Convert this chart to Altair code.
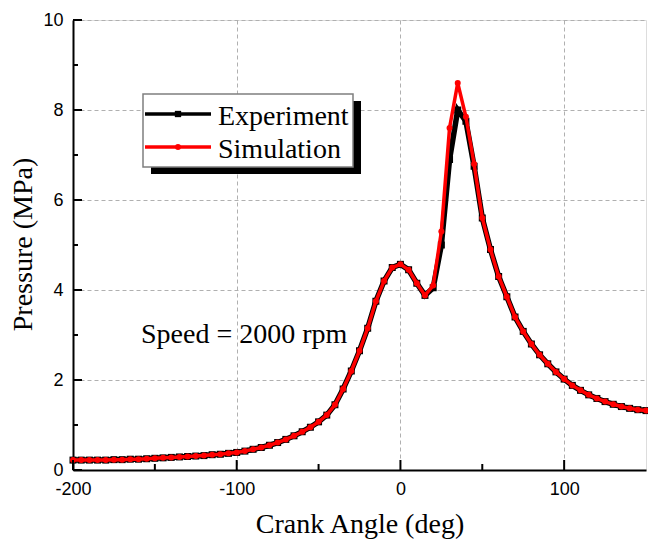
import altair as alt
import pandas as pd

# ---- data ----
angle = list(range(-200, 155, 5))  # crank angle sampling (deg)

simulation = [
    0.22, 0.22, 0.22, 0.22, 0.22, 0.23, 0.23, 0.24, 0.24, 0.25,   # -200..-155
    0.26, 0.27, 0.28, 0.29, 0.30, 0.31, 0.32, 0.34, 0.35, 0.37,   # -150..-105
    0.39, 0.42, 0.46, 0.50, 0.55, 0.61, 0.68, 0.76, 0.85, 0.95,   # -100..-55
    1.07, 1.22, 1.45, 1.80, 2.20, 2.65, 3.15, 3.75, 4.20, 4.50,   # -50..-5
    4.57, 4.45, 4.15, 3.88, 4.10, 5.30, 7.60, 8.60, 7.85, 6.80,   # 0..45
    5.60, 4.90, 4.30, 3.85, 3.40, 3.08, 2.80, 2.56, 2.36, 2.18,   # 50..95
    2.02, 1.88, 1.77, 1.67, 1.59, 1.52, 1.46, 1.41, 1.37, 1.34, 1.32,  # 100..150
]

experiment = [
    0.22, 0.22, 0.22, 0.22, 0.22, 0.23, 0.23, 0.24, 0.24, 0.25,
    0.26, 0.27, 0.28, 0.29, 0.30, 0.31, 0.32, 0.34, 0.35, 0.37,
    0.39, 0.42, 0.46, 0.50, 0.55, 0.61, 0.68, 0.76, 0.85, 0.95,
    1.07, 1.22, 1.45, 1.80, 2.20, 2.65, 3.15, 3.75, 4.20, 4.50,
    4.57, 4.45, 4.15, 3.88, 4.05, 5.00, 6.90, 8.00, 7.75, 6.75,
    5.60, 4.90, 4.30, 3.85, 3.40, 3.08, 2.80, 2.56, 2.36, 2.18,
    2.02, 1.88, 1.77, 1.67, 1.59, 1.52, 1.46, 1.41, 1.37, 1.34, 1.32,
]

series_names = ["Experiment", "Simulation"]
note = ["Speed = 2000 rpm"]

x_major = [-200, -100, 0, 100]
x_minor = [-150, -50, 50]
y_major = [0, 2, 4, 6, 8, 10]
y_minor = [1, 3, 5, 7, 9]

# ---- layout ----
W, H = 573, 450
SERIF = "Liberation Serif"
SANS = "Liberation Sans"
RED = "#ff0000"

df_exp = pd.DataFrame({"angle": angle, "pressure": experiment})
df_sim = pd.DataFrame({"angle": angle, "pressure": simulation})

xscale = alt.Scale(domain=[-200, 150], nice=False, zero=False)
yscale = alt.Scale(domain=[0, 10], nice=False, zero=False)

common = dict(
    ticks=False, labelFlush=False, labelExpr="'' + datum.value",
    labelFont=SANS, labelFontSize=18, labelColor="black",
    domainColor="black", domainWidth=2,
    grid=True, gridColor="#b0b0b0", gridDash=[4, 3], gridWidth=1,
    titleFont=SERIF, titleFontSize=28, titleFontWeight="normal",
    titleColor="black", titleBaseline="alphabetic",
)
x_axis = alt.Axis(values=x_major, title="Crank Angle (deg)", labelPadding=10,
                  titleX=W / 2, titleY=62, **common)
y_axis = alt.Axis(values=y_major, title="Pressure (MPa)", labelPadding=10,
                  titleAngle=270, titleX=-42, titleY=224, **common)

X = alt.X("angle:Q", scale=xscale, axis=x_axis)
Y = alt.Y("pressure:Q", scale=yscale, axis=y_axis)

exp_line = alt.Chart(df_exp).mark_line(color="black", strokeWidth=5.5).encode(x=X, y=Y)
exp_pts = alt.Chart(df_exp).mark_point(
    shape="square", filled=True, size=49, color="black", opacity=1
).encode(x=X, y=Y)
sim_line = alt.Chart(df_sim).mark_line(color=RED, strokeWidth=3.5).encode(x=X, y=Y)
sim_pts = alt.Chart(df_sim).mark_point(
    shape="circle", filled=True, size=36, color=RED, opacity=1
).encode(x=X, y=Y)

# inward ticks
def xticks(vals, length):
    return alt.Chart(pd.DataFrame({"angle": vals})).mark_rule(
        color="black", strokeWidth=2
    ).encode(x=X, y=alt.value(H), y2=alt.value(H - length))

def yticks(vals, length):
    return alt.Chart(pd.DataFrame({"pressure": vals})).mark_rule(
        color="black", strokeWidth=2
    ).encode(y=Y, x=alt.value(0), x2=alt.value(length))

ticks = xticks(x_major, 10) + xticks(x_minor, 6) + yticks(y_major, 9) + yticks(y_minor, 5)

# legend (decoration)
one = pd.DataFrame({"k": [0]})
shadow = alt.Chart(one).mark_rect(color="black").encode(
    x=alt.value(78), x2=alt.value(288), y=alt.value(81), y2=alt.value(154))
box = alt.Chart(one).mark_rect(fill="white", stroke="#7f7f7f", strokeWidth=1.5).encode(
    x=alt.value(70), x2=alt.value(280), y=alt.value(74), y2=alt.value(147))
leg_exp_line = alt.Chart(one).mark_rule(color="black", strokeWidth=3.5).encode(
    x=alt.value(72), x2=alt.value(138), y=alt.value(94))
leg_exp_pt = alt.Chart(one).mark_point(shape="square", filled=True, size=40, color="black", opacity=1).encode(
    x=alt.value(105), y=alt.value(94))
leg_sim_line = alt.Chart(one).mark_rule(color=RED, strokeWidth=3.5).encode(
    x=alt.value(72), x2=alt.value(138), y=alt.value(127))
leg_sim_pt = alt.Chart(one).mark_point(shape="circle", filled=True, size=36, color=RED, opacity=1).encode(
    x=alt.value(105), y=alt.value(127))

def label(txt, yy):
    return alt.Chart(pd.DataFrame({"t": [txt]})).mark_text(
        align="left", baseline="alphabetic", font=SERIF, fontSize=28, color="black"
    ).encode(x=alt.value(145), y=alt.value(yy), text="t:N")

leg_text = label(series_names[0], 104.5) + label(series_names[1], 137.5)

note_text = alt.Chart(pd.DataFrame({"t": note})).mark_text(
    align="left", baseline="alphabetic", font=SERIF, fontSize=28, color="black"
).encode(x=alt.value(68), y=alt.value(323), text="t:N")

chart = alt.layer(
    exp_line, exp_pts, sim_line, sim_pts, ticks,
    shadow, box, leg_exp_line, leg_exp_pt, leg_sim_line, leg_sim_pt, leg_text,
    note_text,
).properties(
    width=W, height=H,
    padding={"left": 73, "top": 20, "right": 2, "bottom": 71},
    autosize=alt.AutoSizeParams(type="none"),
).configure_view(stroke="black", strokeWidth=2).configure(background="white")

chart.save("out.html", embed_options={"renderer": "svg", "actions": False})
